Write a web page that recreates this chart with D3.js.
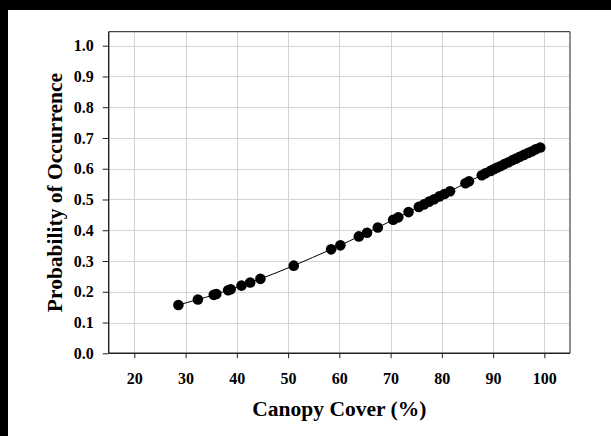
<!DOCTYPE html>
<html>
<head>
<meta charset="utf-8">
<script src="https://cdn.jsdelivr.net/npm/d3@7"></script>
<style>
  html, body { margin: 0; padding: 0; background: #000; }
  svg { display: block; }
</style>
</head>
<body>
<script>
// Data
const canopyCover = [28.6, 32.4, 35.5, 36.0, 38.3, 38.8, 40.9, 42.6, 44.6, 51.1, 58.4, 60.2, 63.8, 65.4, 67.5,
  70.5, 71.5, 73.5, 75.5, 76.5, 77.5, 78.5, 79.5, 80.5, 81.6, 84.6, 85.3, 87.8, 88.5, 89.5, 90.2, 90.8,
  91.5, 92.2, 93.0, 93.8, 94.5, 95.2, 96.0, 96.8, 97.5, 98.3, 99.2];
const probability = [0.157, 0.175, 0.190, 0.193, 0.205, 0.208, 0.220, 0.230, 0.242, 0.285, 0.338, 0.351, 0.380, 0.392, 0.409,
  0.434, 0.442, 0.459, 0.476, 0.484, 0.493, 0.501, 0.510, 0.518, 0.527, 0.553, 0.559, 0.579, 0.585, 0.593, 0.599, 0.604,
  0.609, 0.615, 0.621, 0.628, 0.633, 0.639, 0.645, 0.651, 0.656, 0.663, 0.669];
const xTicks = [20, 30, 40, 50, 60, 70, 80, 90, 100];
const yTicks = [0.0, 0.1, 0.2, 0.3, 0.4, 0.5, 0.6, 0.7, 0.8, 0.9, 1.0];
const xTitle = "Canopy Cover (%)";
const yTitle = "Probability of Occurrence";

(function () {
const W = 611, H = 436;
const svg = d3.select("body").append("svg").attr("width", W).attr("height", H);

// black borders at top/left, white page
svg.append("rect").attr("x", 0).attr("y", 0).attr("width", W).attr("height", H).attr("fill", "#000");
svg.append("rect").attr("x", 8).attr("y", 10).attr("width", W - 8).attr("height", H - 10).attr("fill", "#fff");

const pL = 108.7, pR = 570, pT = 31.7, pB = 353.3;
const x = d3.scaleLinear().domain([15, 105]).range([pL, pR]);
const y = d3.scaleLinear().domain([0, 1.0455]).range([pB, pT]);

const font = "'Liberation Serif', 'Times New Roman', serif";

// gridlines
const grid = svg.append("g");
grid.selectAll("line.gx").data(xTicks).join("line")
  .attr("x1", d => Math.round(x(d)) + 0.5).attr("x2", d => Math.round(x(d)) + 0.5)
  .attr("y1", pT).attr("y2", pB)
  .attr("stroke", "#d4d4d4").attr("stroke-width", 1);
grid.selectAll("line.gy").data(yTicks.filter(d => d > 0)).join("line")
  .attr("y1", d => Math.round(y(d)) + 0.5).attr("y2", d => Math.round(y(d)) + 0.5)
  .attr("x1", pL).attr("x2", pR)
  .attr("stroke", "#d4d4d4").attr("stroke-width", 1);

// frame top/right
svg.append("line").attr("x1", pL).attr("x2", pR).attr("y1", pT).attr("y2", pT)
  .attr("stroke", "#444").attr("stroke-width", 1.2);
svg.append("line").attr("x1", pR).attr("x2", pR).attr("y1", pT).attr("y2", pB)
  .attr("stroke", "#444").attr("stroke-width", 1.2);

// axes
const xAxis = d3.axisBottom(x).tickValues(xTicks).tickSize(5).tickPadding(14).tickFormat(d3.format("d"));
const yAxis = d3.axisLeft(y).tickValues(yTicks).tickSize(6).tickPadding(9).tickFormat(d3.format(".1f"));

const gx = svg.append("g").attr("transform", `translate(0,${pB})`).call(xAxis);
const gy = svg.append("g").attr("transform", `translate(${pL},0)`).call(yAxis);
[gx, gy].forEach(g => {
  g.select(".domain").attr("stroke", "#222").attr("stroke-width", 1.4);
  g.selectAll(".tick line").attr("stroke", "#222").attr("stroke-width", 1);
  g.selectAll(".tick text").attr("fill", "#000")
    .style("font-family", font).style("font-weight", "bold").style("font-size", "16px");
});
gx.select(".domain").attr("d", `M${pL},0H${pR}`);
gy.select(".domain").attr("d", `M0,${pB}V${pT}`);

// fitted line through points
const pts = canopyCover.map((c, i) => [c, probability[i]]);
svg.append("path").datum(pts)
  .attr("d", d3.line().x(d => x(d[0])).y(d => y(d[1])).curve(d3.curveMonotoneX))
  .attr("fill", "none").attr("stroke", "#000").attr("stroke-width", 1);

// points
svg.append("g").selectAll("circle").data(pts).join("circle")
  .attr("cx", d => x(d[0])).attr("cy", d => y(d[1])).attr("r", 5.3)
  .attr("fill", "#000");

// titles
svg.append("text").text(xTitle)
  .attr("x", (pL + pR) / 2).attr("y", 416).attr("text-anchor", "middle")
  .style("font-family", font).style("font-weight", "bold").style("font-size", "21.5px");
svg.append("text").text(yTitle)
  .attr("transform", `translate(62,${(pT + pB) / 2}) rotate(-90)`).attr("text-anchor", "middle")
  .style("font-family", font).style("font-weight", "bold").style("font-size", "21.5px");
})();
</script>
</body>
</html>
